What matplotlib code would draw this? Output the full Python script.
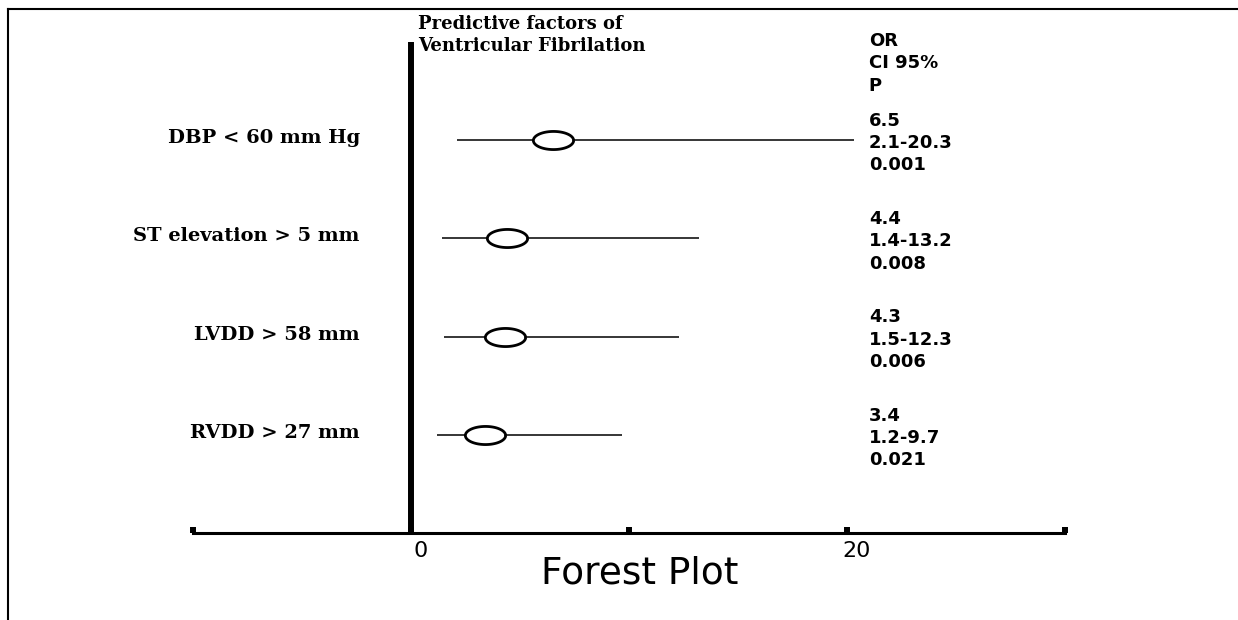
import numpy as np
import matplotlib
matplotlib.use("Agg")
import matplotlib.pyplot as plt
from matplotlib.lines import Line2D
import matplotlib.transforms as mtrans

# data
factors = ["DBP < 60 mm Hg", "ST elevation > 5 mm", "LVDD > 58 mm", "RVDD > 27 mm"]
odds = [6.5, 4.4, 4.3, 3.4]
ci_lo = [2.1, 1.4, 1.5, 1.2]
ci_hi = [20.3, 13.2, 12.3, 9.7]
p_vals = ["0.001", "0.008", "0.006", "0.021"]
tick_vals = [-10, 0, 10, 20, 30]
tick_txt = ["", "0", "", "20", ""]

W, H = 1238, 620
fig = plt.figure(figsize=(W / 100, H / 100), dpi=100)
ax = fig.add_axes([193 / W, 1 - 533 / H, (1065 - 193) / W, (533 - 42) / H])

rows = np.arange(len(factors), 0, -1)

# confidence intervals and point estimates
ax.hlines(rows, ci_lo, ci_hi, color="black", lw=1.1, zorder=2)
t = np.linspace(0, 2 * np.pi, 80)
oval = np.column_stack([np.cos(t), 0.45 * np.sin(t)])
ax.plot(odds, rows, ls="none", marker=oval, ms=29, mfc="white", mec="black", mew=2, zorder=3)

# line of reference at 0
ax.axvline(0, color="black", lw=4.3, zorder=1)

ax.set_xlim(-10, 30)
ax.set_ylim(0, 5)
for s in ["top", "right", "left"]:
    ax.spines[s].set_visible(False)
ax.spines["bottom"].set_linewidth(2.2)
ax.set_yticks([])
ax.set_xticks(tick_vals)
ax.set_xticklabels(tick_txt, fontsize=16, family="DejaVu Sans")
ax.tick_params(axis="x", direction="in", length=4, width=4.3, pad=6)
shift = mtrans.ScaledTranslation(10 / 100, 0, fig.dpi_scale_trans)
for lab in ax.get_xticklabels():
    lab.set_transform(lab.get_transform() + shift)

# row labels and OR / CI / P text
for r, name, o, lo, hi, p in zip(rows, factors, odds, ci_lo, ci_hi, p_vals):
    ax.text(-10 - 0.1 + (362 - 193) / 21.8, r + 0.02, name, ha="right", va="center",
            fontsize=14, fontweight="bold", family="DejaVu Serif", clip_on=False)
    ax.text(21, r - 0.03, "{}\n{}-{}\n{}".format(o, lo, hi, p), ha="left", va="center",
            fontsize=13, fontweight="bold", family="DejaVu Sans", linespacing=1.3, clip_on=False)

ax.text(21, 5.1, "OR\nCI 95%\nP", ha="left", va="top", fontsize=13, fontweight="bold",
        family="DejaVu Sans", linespacing=1.3, clip_on=False)

fig.text(418 / W, 1 - 15 / H, "Predictive factors of\nVentricular Fibrilation", ha="left", va="top",
         fontsize=13, fontweight="bold", family="DejaVu Serif", linespacing=1.3)

fig.text(640 / W, 1 - 574 / H, "Forest Plot", ha="center", va="center", fontsize=27,
         family="DejaVu Sans")

# frame lines top and left
fig.add_artist(Line2D([8 / W, 1], [1 - 9 / H, 1 - 9 / H], transform=fig.transFigure, color="black", lw=1.5))
fig.add_artist(Line2D([8 / W, 8 / W], [0, 1 - 9 / H], transform=fig.transFigure, color="black", lw=1.5))

fig.savefig("out.png", dpi=100)
